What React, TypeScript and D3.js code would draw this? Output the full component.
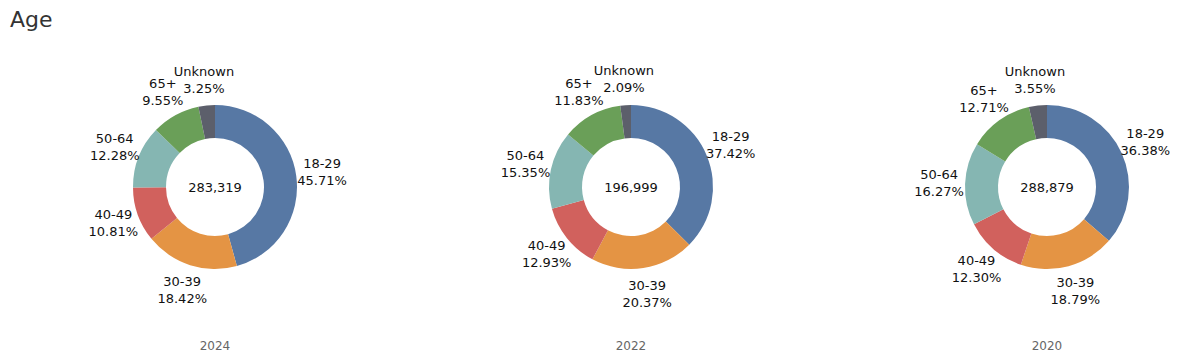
import React, { useEffect, useRef } from "react";
import * as d3 from "d3";

const categories = ["18-29", "30-39", "40-49", "50-64", "65+", "Unknown"];
const years = ["2024", "2022", "2020"];
const totals = [283319, 196999, 288879];
const share2024 = [45.71, 18.42, 10.81, 12.28, 9.55, 3.25];
const share2022 = [37.42, 20.37, 12.93, 15.35, 11.83, 2.09];
const share2020 = [36.38, 18.79, 12.3, 16.27, 12.71, 3.55];
const colors = ["#5778a4", "#e49444", "#d1615d", "#85b6b2", "#6a9f58", "#5c5f6b"];

const App: React.FC = () => {
  const svgRef = useRef<SVGSVGElement | null>(null);

  useEffect(() => {
    if (!svgRef.current) return;
    const svg = d3.select(svgRef.current);
    svg.selectAll("*").remove();

    const width = 1200;
    const height = 364;
    const outer = 82;
    const inner = 49;
    const labelR = 108;
    const cy = 187;
    const font = "DejaVu Sans, Verdana, sans-serif";

    svg.attr("width", width).attr("height", height);

    svg
      .append("text")
      .attr("x", 10)
      .attr("y", 27)
      .attr("font-family", font)
      .attr("font-size", 22)
      .attr("fill", "#333")
      .text("Age");

    const x = d3.scalePoint<string>().domain(years).range([215, 1047]);
    const color = d3.scaleOrdinal<string, string>().domain(categories).range(colors);
    const shares = [share2024, share2022, share2020];

    const pie = d3
      .pie<{ cat: string; v: number }>()
      .value((d) => d.v)
      .sort(null);
    const arc = d3
      .arc<d3.PieArcDatum<{ cat: string; v: number }>>()
      .innerRadius(inner)
      .outerRadius(outer);

    years.forEach((year, i) => {
      const data = categories.map((cat, j) => ({ cat, v: shares[i][j] }));
      const arcs = pie(data);
      const g = svg.append("g").attr("transform", `translate(${x(year)},${cy})`);

      g.selectAll("path")
        .data(arcs)
        .enter()
        .append("path")
        .attr("d", arc)
        .attr("fill", (d) => color(d.data.cat));

      g.append("text")
        .attr("text-anchor", "middle")
        .attr("dy", "0.35em")
        .attr("font-family", font)
        .attr("font-size", 13)
        .attr("fill", "#111")
        .text(d3.format(",")(totals[i]));

      const labels = g
        .selectAll("g.lab")
        .data(arcs)
        .enter()
        .append("g")
        .attr("class", "lab")
        .attr("transform", (d) => {
          const a = (d.startAngle + d.endAngle) / 2;
          return `translate(${labelR * Math.sin(a)},${-labelR * Math.cos(a)})`;
        });
      labels
        .append("text")
        .attr("text-anchor", "middle")
        .attr("font-family", font)
        .attr("font-size", 13)
        .attr("fill", "#111")
        .attr("y", -4)
        .text((d) => d.data.cat);
      labels
        .append("text")
        .attr("text-anchor", "middle")
        .attr("font-family", font)
        .attr("font-size", 13)
        .attr("fill", "#111")
        .attr("y", 13)
        .text((d) => d3.format(".2f")(d.data.v) + "%");

      svg
        .append("text")
        .attr("x", x(year)!)
        .attr("y", 350)
        .attr("text-anchor", "middle")
        .attr("font-family", font)
        .attr("font-size", 12)
        .attr("fill", "#666")
        .text(year);
    });
  }, []);

  return (
    <svg
      ref={svgRef}
      style={{ position: "absolute", left: 0, top: 0, display: "block" }}
    ></svg>
  );
};

export default App;
